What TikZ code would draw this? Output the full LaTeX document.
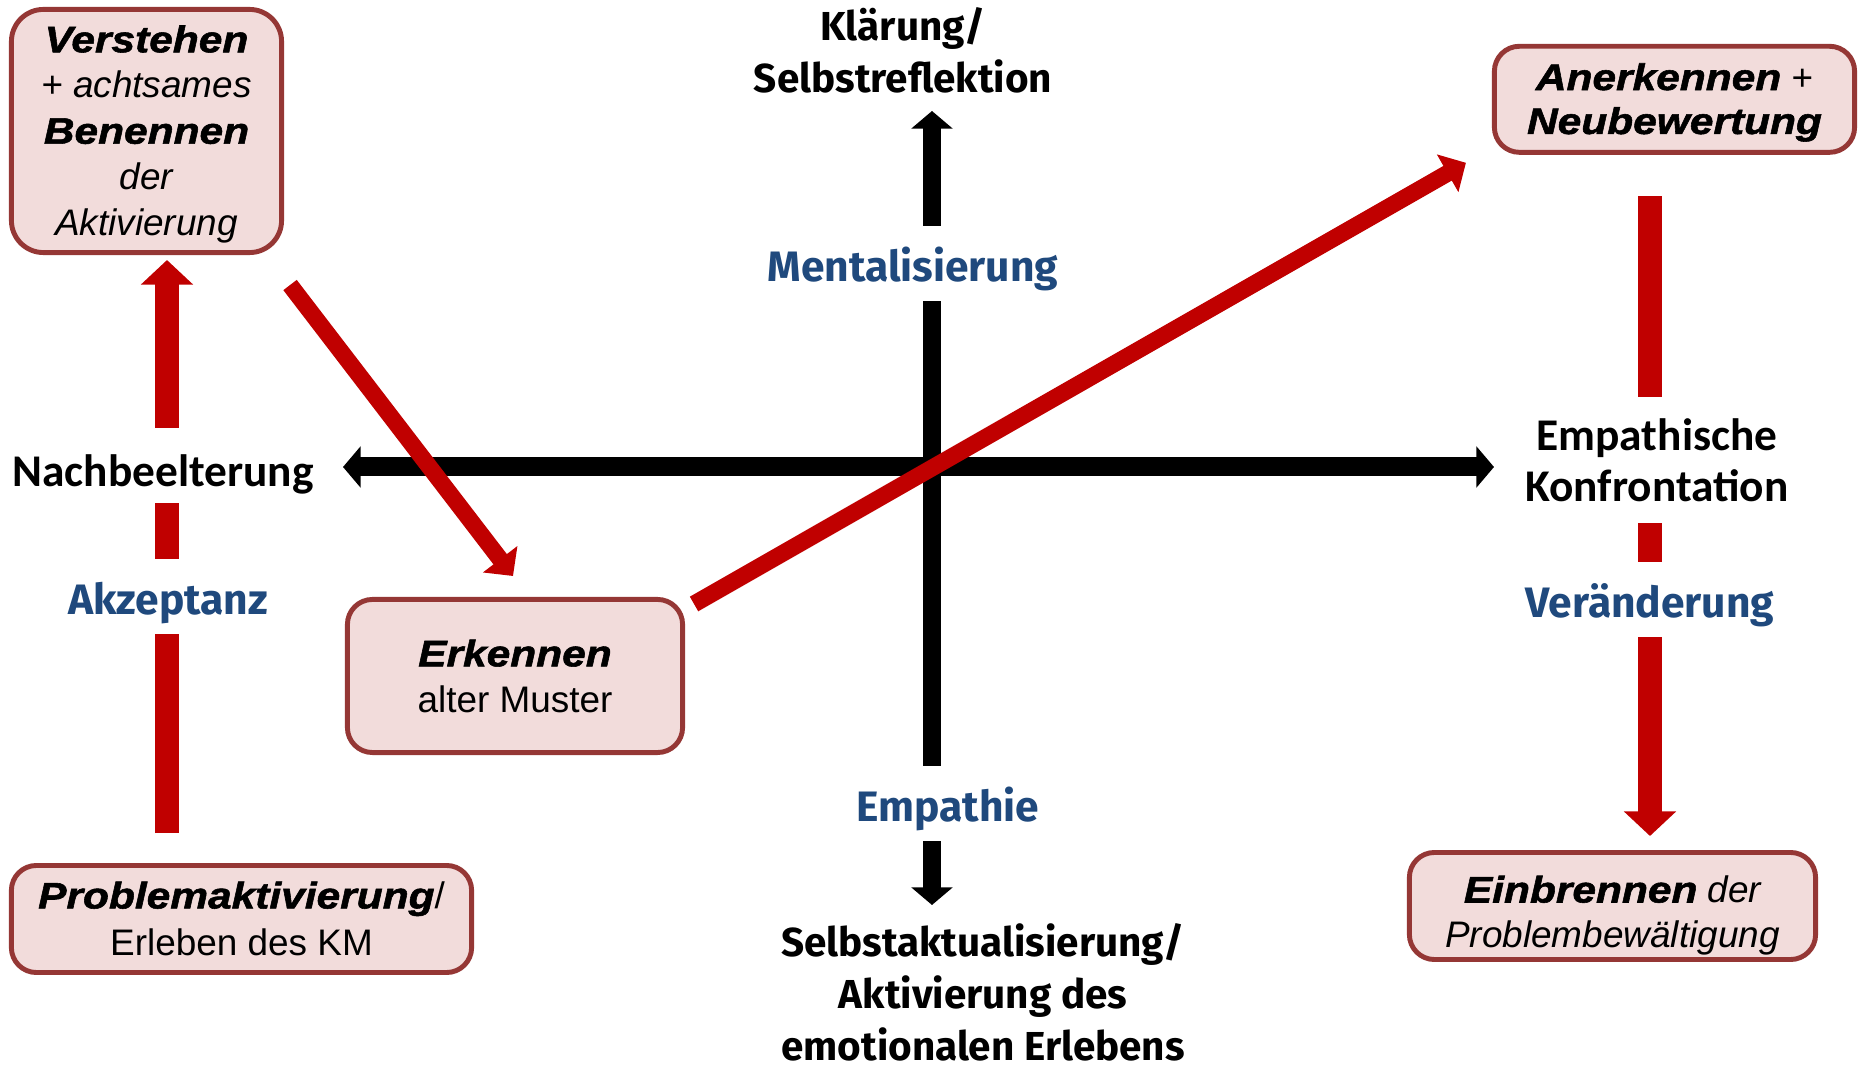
\documentclass[tikz,border=0pt]{standalone}
\usepackage{fontspec}
\setmainfont{Liberation Sans}
\newfontfamily\heavyfont[FakeStretch=1.15,FakeBold=1.5]{Liberation Sans}
\newfontfamily\lblfont{Fira Sans}
\newfontfamily\axfont{Carlito}
\usetikzlibrary{arrows.meta,calc}

\definecolor{arrred}{HTML}{C00000}
\definecolor{boxline}{HTML}{953735}
\definecolor{boxfill}{HTML}{F2DCDB}
\definecolor{lblblue}{HTML}{1F497D}

% heavy italic keyword inside the boxes
\newcommand{\hv}[1]{{\heavyfont\bfseries\itshape #1}}

\begin{document}
\begin{tikzpicture}[x=0.01cm,y=-0.01cm,
  stepbox/.style={draw=boxline, fill=boxfill, line width=1.4pt,
    rounded corners=0.25cm, align=center, inner sep=0pt,
    font=\fontsize{10.5}{13}\selectfont},
  axisline/.style={line width=5.4pt, draw=black,
    {Triangle[length=5pt,width=11.5pt]}-{Triangle[length=5pt,width=11.5pt]}},
  redup/.style={line width=6.8pt, draw=arrred,
    -{Triangle[length=7pt,width=14.5pt]}},
  reddiag/.style={line width=4.8pt, draw=arrred,
    -{Triangle[length=6pt,width=12pt]}},
  mainlbl/.style={font=\lblfont\bfseries\fontsize{11.5}{14.8}\selectfont,
    align=center, inner sep=0pt},
  bluelbl/.style={font=\lblfont\bfseries\fontsize{12.1}{14.8}\selectfont,
    text=lblblue, fill=white, inner sep=0pt, anchor=base,
    text height=15.7pt, text depth=5.6pt},
  axlbl/.style={font=\axfont\bfseries\fontsize{12.9}{14.5}\selectfont,
    align=center, fill=white, inner sep=0pt},
]
\useasboundingbox (0,0) rectangle (1865,1067);

% boxes
\node[stepbox, minimum width=2.70cm, minimum height=2.43cm,
  rounded corners=0.32cm] (verst) at (146.5,131)
  {\rule{0pt}{9.4pt}\hv{Verstehen}\\ {\itshape + achtsames}\\ \hv{Benennen}\\
   {\itshape der}\\ {\itshape Aktivierung}};
\node[stepbox, minimum width=3.35cm, minimum height=1.53cm] (erk)
  at (515,676) {\hv{Erkennen}\\ alter Muster};
\node[stepbox, minimum width=3.60cm, minimum height=1.06cm,
  font=\fontsize{10.5}{12.5}\selectfont] (aner) at (1674.5,99.3)
  {\rule{0pt}{9.4pt}\hv{Anerkennen} +\\ \hv{Neubewertung}};
\node[stepbox, minimum width=4.60cm, minimum height=1.07cm,
  font=\fontsize{10.5}{13.5}\selectfont] (prob) at (241.5,919)
  {\hv{Problemaktivierung}/\\ Erleben des KM};
\node[stepbox, minimum width=4.06cm, minimum height=1.07cm,
  font=\fontsize{10.5}{12.8}\selectfont] (einb) at (1612.5,906)
  {\rule{0pt}{13pt}\hv{Einbrennen} {\itshape der}\\ {\itshape Problembewältigung}};

% axes
\coordinate (vtop) at (932,111);
\coordinate (vbot) at (932,905);
\coordinate (hleft) at (343,467);
\coordinate (hright) at (1494,467);
\draw[axisline] (vtop) -- (vbot);
\draw[axisline] (hleft) -- (hright);

% process arrows
\draw[redup] ($(prob.north)+(-74.5,-30)$) -- ($(verst.south)+(20.5,5)$);
\draw[reddiag] ($(verst.south east)+(6,30)$) -- ($(erk.north)+(-2,-21)$);
\draw[reddiag] ($(erk.north east)+(9,7)$) -- ($(aner.south west)+(-26,8)$);
\draw[redup] ($(aner.south)+(-24.5,41.4)$) -- ($(einb.north)+(37.5,-14)$);

% axis end labels
\node[mainlbl] (klaer) at (903,50.5) {Klärung/\\Selbstreflektion};
\node[mainlbl] (selbst) at (983,992)
  {Selbstaktualisierung/\\Aktivierung des\\emotionalen Erlebens};
\node[axlbl, anchor=base, text height=16.7pt, text depth=4.7pt] (nach)
  at (163,486.4) {Nachbeelterung};
\node[axlbl, minimum height=1.25cm] (konf) at (1657,460)
  {Empathische\\Konfrontation};

% dimension labels on the arrows
\node[bluelbl] (ment) at (913,281.4) {Mentalisierung};
\node[bluelbl] (empa) at (948,821.4) {Empathie};
\node[bluelbl] (akz) at (168,614.4) {Akzeptanz};
\node[bluelbl] (veraend) at (1650,617.4) {Veränderung};
\end{tikzpicture}
\end{document}
